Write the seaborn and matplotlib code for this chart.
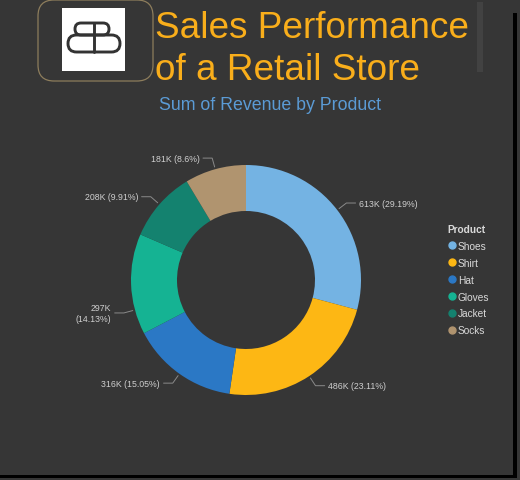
import numpy as np
import matplotlib.pyplot as plt
import seaborn as sns
from matplotlib.patches import FancyBboxPatch, Rectangle
from matplotlib.lines import Line2D

products = ['Shoes', 'Shirt', 'Hat', 'Gloves', 'Jacket', 'Socks']
revenue_k = [613, 486, 316, 297, 208, 181]
pct_labels = ['29.19%', '23.11%', '15.05%', '14.13%', '9.91%', '8.6%']
colors = ['#74B3E3', '#FDB714', '#2B78C5', '#15B393', '#14826F', '#B0946F']

bg = '#363636'
sns.set_theme(style='dark', rc={'axes.facecolor': bg, 'figure.facecolor': bg})
plt.rcParams['font.family'] = ['Liberation Sans', 'DejaVu Sans']
pal = sns.color_palette(colors)

fig = plt.figure(figsize=(5.2, 4.81), dpi=100)

# background layer in pixel coordinates (logo, titles, frame lines)
bgax = fig.add_axes([0, 0, 1, 1])
bgax.set_xlim(0, 520)
bgax.set_ylim(481, 0)
bgax.axis('off')

bgax.add_patch(FancyBboxPatch((38, 1), 115, 81, boxstyle='round,pad=0,rounding_size=16',
                              fc='none', ec='#8d7d5c', lw=0.9))
bgax.add_patch(Rectangle((62, 9), 63, 63, fc='white', ec='none'))
bgax.add_patch(FancyBboxPatch((75, 24), 34, 12, boxstyle='round,pad=0,rounding_size=6',
                              fc='none', ec='#333333', lw=2.1))
bgax.add_patch(FancyBboxPatch((68, 36), 52, 17, boxstyle='round,pad=0,rounding_size=8.5',
                              fc='none', ec='#333333', lw=2.1))
bgax.plot([94, 94], [24, 53], color='#333333', lw=2.1)

bgax.text(155, 38, 'Sales Performance', fontsize=26.6, color='#F9AE1B', va='baseline', ha='left')
bgax.text(155, 80, 'of a Retail Store', fontsize=26.6, color='#F9AE1B', va='baseline', ha='left')
bgax.text(270, 110, 'Sum of Revenue by Product', fontsize=12.8, color='#5B9BD5',
          va='baseline', ha='center')

bgax.add_patch(Rectangle((477, 3), 6, 70, fc='#424242', ec='none'))
bgax.add_patch(Rectangle((513, 14), 4, 464, fc='black', ec='none'))
bgax.add_patch(Rectangle((0, 476), 517, 2.5, fc='black', ec='none'))

# donut
ax = fig.add_axes([62 / 520, 16 / 481, 368 / 520, 368 / 481])
ax.set_facecolor('none')
wedges, _ = ax.pie(revenue_k, colors=pal, startangle=90, counterclock=False,
                   wedgeprops=dict(width=0.4, edgecolor='none'))
ax.set_xlim(-1.6, 1.6)
ax.set_ylim(-1.6, 1.6)
ax.set_aspect('equal')

angle_shift = {'Gloves': 13}
wrap = {'Gloves'}
for w, name, v, p in zip(wedges, products, revenue_k, pct_labels):
    ang = np.deg2rad((w.theta1 + w.theta2) / 2 + angle_shift.get(name, 0))
    c, s = np.cos(ang), np.sin(ang)
    side = 1 if c >= 0 else -1
    x0, y0 = 1.02 * c, 1.02 * s
    x1, y1 = 1.1 * c, 1.1 * s
    x2 = x1 + side * 0.08
    ax.plot([x0, x1, x2], [y0, y1, y1], color='#8a8a8a', lw=0.7)
    sep = '\n' if name in wrap else ' '
    ax.text(x2 + side * 0.03, y1, f'{v}K{sep}({p})', fontsize=6.3, color='#cfcfcf',
            ha='left' if side > 0 else 'right', va='center',
            multialignment='right' if side < 0 else 'left')

handles = [Line2D([], [], marker='o', ls='', markersize=5, mfc=c, mec=c) for c in pal]
leg = fig.legend(handles, products, title='Product', loc='upper left',
                 bbox_to_anchor=(447 / 520, 1 - 225 / 481), frameon=False,
                 fontsize=7.3, title_fontsize=7.3, labelcolor='#d9d9d9',
                 handletextpad=0.05, handlelength=1.0, labelspacing=0.68,
                 borderaxespad=0, borderpad=0, alignment='left')
leg.get_title().set_color('#d9d9d9')
leg.get_title().set_fontweight('bold')

fig.savefig('out.png', dpi=100, facecolor=bg)
